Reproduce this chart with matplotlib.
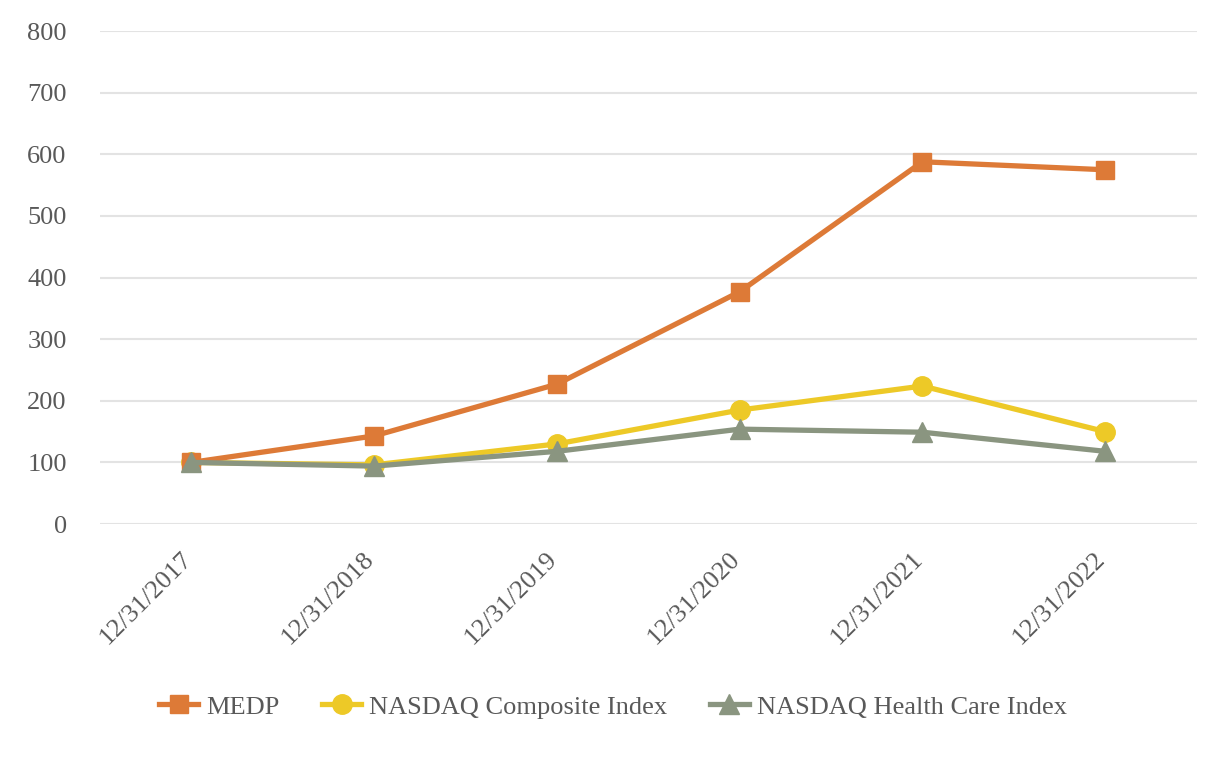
import numpy as np
import matplotlib.pyplot as plt
from matplotlib.transforms import ScaledTranslation

# --- data ---
dates = ['12/31/2017', '12/31/2018', '12/31/2019', '12/31/2020', '12/31/2021', '12/31/2022']
medp = [100, 143, 227, 377, 588, 575]
nasdaq_comp = [100, 96, 130, 185, 224, 150]
nasdaq_hc = [100, 94, 118, 154, 149, 118]

plt.rcParams['font.family'] = ['Liberation Serif', 'DejaVu Serif']
TXT = '#595959'

fig = plt.figure(figsize=(12.26, 7.6), dpi=100)
ax = fig.add_axes([0.0816, 0.3105, 0.8944, 0.6485])

x = np.arange(len(dates))
ax.plot(x, medp, color='#DD7A37', lw=3.8, marker='s', ms=13, label='MEDP', zorder=3)
ax.plot(x, nasdaq_comp, color='#EDC927', lw=3.8, marker='o', ms=14, label='NASDAQ Composite Index', zorder=2)
ax.plot(x, nasdaq_hc, color='#8A9580', lw=3.8, marker='^', ms=14, label='NASDAQ Health Care Index', zorder=4)

ax.set_xlim(-0.5, len(dates) - 0.5)
ax.set_ylim(0, 800)
ax.set_yticks(range(0, 801, 100))
ax.set_xticks(x)
ax.set_xticklabels(dates, rotation=45, ha='right', rotation_mode='anchor')
ax.tick_params(axis='both', length=0, labelsize=19, labelcolor=TXT)
ax.tick_params(axis='x', pad=10)
ax.tick_params(axis='y', pad=24)
# nudge the slanted date labels down-left like the original
shift = ScaledTranslation(-11 / 100, -10 / 100, fig.dpi_scale_trans)
for lab in ax.get_xticklabels():
    lab.set_transform(lab.get_transform() + shift)
ax.grid(axis='y', color='#E3E3E3', lw=1.5)
ax.set_axisbelow(True)
for s in ax.spines.values():
    s.set_visible(False)

fig.legend(loc='center', bbox_to_anchor=(0.5, 0.070), ncol=3, frameon=False,
           fontsize=19, labelcolor=TXT, handlelength=1.5, columnspacing=1.6,
           handletextpad=0.3)

fig.savefig('out.png', dpi=100)
